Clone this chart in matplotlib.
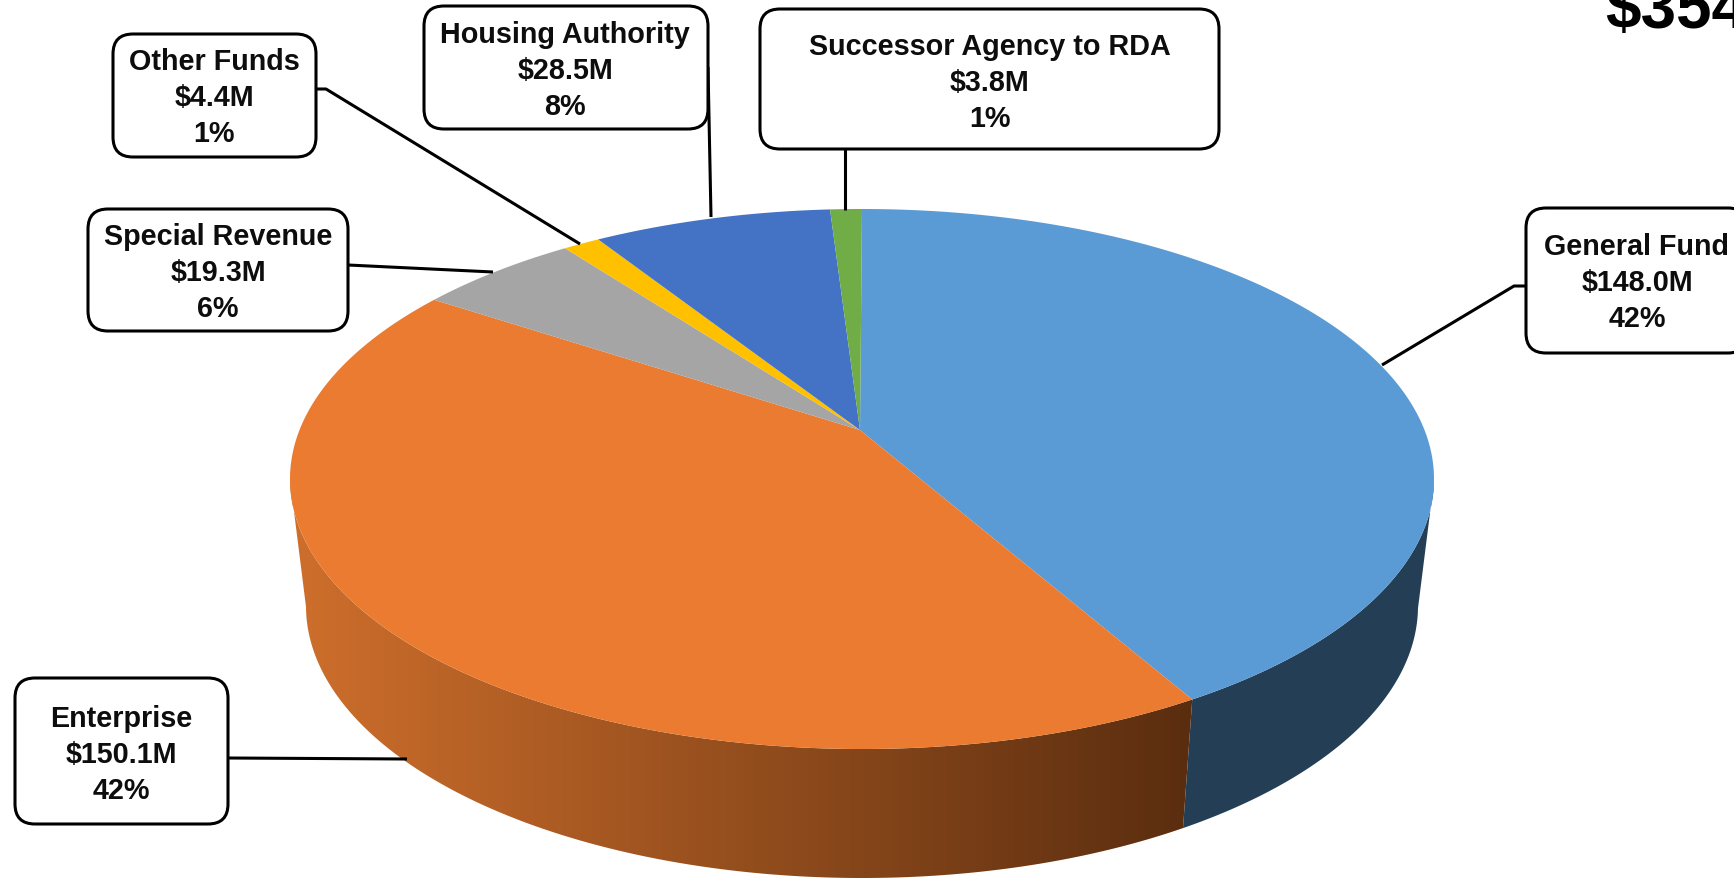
import numpy as np
import matplotlib
matplotlib.use("Agg")
import matplotlib.pyplot as plt
from matplotlib.colors import LinearSegmentedColormap
from matplotlib.patches import FancyBboxPatch, Polygon

names = ["General Fund", "Enterprise", "Special Revenue", "Other Funds",
         "Housing Authority", "Successor Agency to RDA"]
values = [148.0, 150.1, 19.3, 4.4, 28.5, 3.8]
percents = [42, 42, 6, 1, 8, 1]
colors = ["#5B9BD5", "#EA7B30", "#A5A5A5", "#FFC000", "#4472C4", "#70AD47"]
total_text = "$354"

# pie geometry in pixels, the picture is drawn in perspective
CX, CY, RX, RY = 862, 480, 572, 270
LOW_CY, LOW_RX, LOW_RY = 607, 556, 272
TILT = 0.185

# x0, x1, y0, y1, text x, text y
boxes = [
    (1526, 1748, 209, 354, 1637, 283),
    (15, 228, 679, 825, 121, 755),
    (88, 348, 210, 332, 218, 273),
    (113, 316, 35, 158, 214, 98),
    (424, 708, 7, 130, 565, 71),
    (760, 1219, 10, 150, 990, 83),
]
leaders = [
    [(1526, 287), (1514, 287), (1382, 366)],
    [(228, 759), (407, 760)],
    [(348, 266), (493, 273)],
    [(316, 90), (326, 90), (580, 245)],
    [(708, 68), (711, 218)],
    [(845, 150), (845, 211)],
]


def rim(theta, cy=CY, rx=RX, ry=RY):
    """Point on an ellipse for a true pie angle, clockwise from the top."""
    s, c = np.sin(theta), np.cos(theta)
    u = s * np.sqrt(1 - TILT ** 2) / (1 + TILT * c)
    v = (c + TILT) / (1 + TILT * c)
    return np.column_stack([CX + rx * u, cy - ry * v])


def wall(a0, a1):
    theta = np.linspace(a0, a1, 300)
    front = (np.cos(theta) + TILT) / (1 + TILT * np.cos(theta)) <= 0
    theta = theta[front]
    top = rim(theta)
    low = rim(theta, LOW_CY, LOW_RX, LOW_RY)
    return np.vstack([top, low[::-1]])


def main():
    fig = plt.figure(figsize=(17.34, 8.79), dpi=100)
    ax = fig.add_axes([0, 0, 1, 1])
    ax.set_xlim(0, 1734)
    ax.set_ylim(879, 0)
    ax.axis("off")

    edges = np.cumsum([0] + values) / sum(values) * 2 * np.pi

    # side walls
    ax.add_patch(Polygon(wall(edges[0], edges[1]), closed=True,
                         fc="#243F55", ec="none", zorder=1))
    shade = LinearSegmentedColormap.from_list("shade", ["#CF6F2C", "#5A2D0F"])
    band = ax.imshow(np.linspace(0, 1, 256).reshape(1, -1), cmap=shade,
                     extent=[285, 1195, 879, 400], aspect="auto", zorder=1)
    clip = Polygon(wall(edges[1], edges[2]), closed=True, fc="none", ec="none",
                   transform=ax.transData)
    ax.add_patch(clip)
    band.set_clip_path(clip)
    ax.set_xlim(0, 1734)
    ax.set_ylim(879, 0)

    # top face
    apex = np.array([860, CY - TILT * RY + 1])
    for i, color in enumerate(colors):
        arc = rim(np.linspace(edges[i], edges[i + 1], 300))
        ax.add_patch(Polygon(np.vstack([apex, arc]), closed=True,
                             fc=color, ec="none", zorder=2))

    for line in leaders:
        xs, ys = zip(*line)
        ax.plot(xs, ys, color="black", lw=2.2, zorder=3, solid_capstyle="butt")

    for i, name in enumerate(names):
        x0, x1, y0, y1, tx, ty = boxes[i]
        ax.add_patch(FancyBboxPatch((x0, y0), x1 - x0, y1 - y0,
                                    boxstyle="round,pad=0,rounding_size=20",
                                    fc="white", ec="black", lw=2.2, zorder=4))
        label = f"{name}\n${values[i]:.1f}M\n{percents[i]}%"
        ax.text(tx, ty, label, ha="center", va="center", ma="center",
                family="Liberation Sans", weight="bold", fontsize=20.7,
                linespacing=1.36, color="#0D0D0D", zorder=5)

    ax.text(1605, 28, total_text, ha="left", va="baseline",
            family="Liberation Sans", weight="bold", fontsize=46, color="black")

    fig.savefig("out.png", dpi=100, facecolor="white")


if __name__ == "__main__":
    main()
